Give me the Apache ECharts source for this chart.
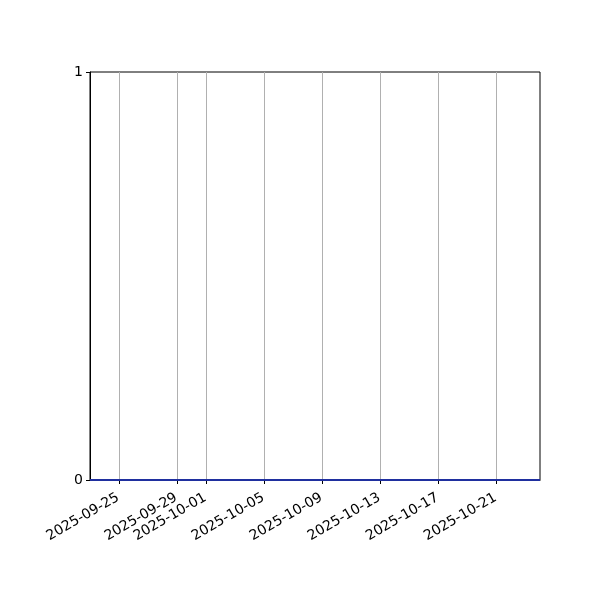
<!DOCTYPE html>
<html>
<head>
<meta charset="utf-8">
<script src="https://cdn.jsdelivr.net/npm/echarts@6/dist/echarts.min.js"></script>
<style>html,body{margin:0;padding:0;background:#fff}#c{width:600px;height:600px}</style>
</head>
<body>
<div id="c"></div>
<script>
const dates = ['2025-09-23','2025-09-24','2025-09-25','2025-09-26','2025-09-27','2025-09-28','2025-09-29','2025-09-30',
  '2025-10-01','2025-10-02','2025-10-03','2025-10-04','2025-10-05','2025-10-06','2025-10-07','2025-10-08',
  '2025-10-09','2025-10-10','2025-10-11','2025-10-12','2025-10-13','2025-10-14','2025-10-15','2025-10-16',
  '2025-10-17','2025-10-18','2025-10-19','2025-10-20','2025-10-21','2025-10-22','2025-10-23','2025-10-24'];
const values = [0,0,0,0,0,0,0,0,0,0,0,0,0,0,0,0,0,0,0,0,0,0,0,0,0,0,0,0,0,0,0,0];
const tickLabels = ['2025-09-25','2025-09-29','2025-10-01','2025-10-05','2025-10-09','2025-10-13','2025-10-17','2025-10-21'];
const yTicks = [0, 1];
const xMin = '2025-09-23', xMax = '2025-10-24';

const ms = s => Date.parse(s + 'T00:00:00Z');
const tickVals = tickLabels.map(ms);
const fmt = v => new Date(v).toISOString().slice(0, 10);
const font = 'DejaVu Sans';

const chart = echarts.init(document.getElementById('c'), null, {renderer: 'canvas'});
chart.setOption({
  animation: false,
  grid: {left: 90, right: 60, top: 72, bottom: 120, show: true, borderColor: '#000', borderWidth: 1, backgroundColor: 'transparent'},
  xAxis: {
    type: 'value', min: ms(xMin), max: ms(xMax),
    axisLine: {show: true, onZero: false, lineStyle: {color: '#000', width: 1}},
    axisTick: {show: true, inside: false, customValues: tickVals, length: 4, lineStyle: {color: '#000', width: 1}},
    axisLabel: {customValues: tickVals, formatter: fmt, rotate: 30, align: 'right', verticalAlign: 'top', padding: [0, 5, 0, 0], color: '#000', fontFamily: font, fontSize: 14, margin: 8},
    splitLine: {show: true, customValues: tickVals, lineStyle: {color: '#b0b0b0', width: 1}}
  },
  yAxis: {
    type: 'value', min: yTicks[0], max: yTicks[yTicks.length - 1], interval: 1,
    axisLine: {show: true, lineStyle: {color: '#000', width: 1}},
    axisTick: {show: true, inside: false, length: 4, lineStyle: {color: '#000'}},
    axisLabel: {color: '#000', fontFamily: font, fontSize: 14, margin: 7, padding: [3, 0, 0, 0]},
    splitLine: {show: false}
  },
  series: [{
    type: 'line',
    data: dates.map((d, i) => [ms(d), values[i]]),
    showSymbol: false,
    lineStyle: {color: '#1f2f9f', width: 2},
    clip: false
  }]
});
</script>
</body>
</html>
